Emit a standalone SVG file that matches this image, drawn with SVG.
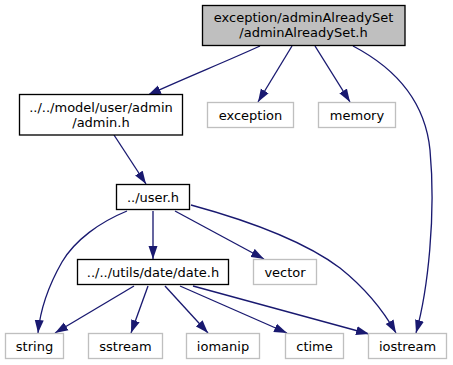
<svg xmlns="http://www.w3.org/2000/svg" width="453" height="365" viewBox="0 0 453 365">
  <style>
    .bg { fill: #ffffff; }
    .node rect { fill: #ffffff; stroke: #000000; stroke-width: 1.33; }
    .node.ext rect { stroke: #bfbfbf; }
    .node.root rect { fill: #bfbfbf; stroke: #000000; }
    .node text { font-family: "DejaVu Sans", "Liberation Sans", sans-serif; font-size: 13px; fill: #000000; text-anchor: middle; }
    .edges path { fill: none; stroke: #191970; stroke-width: 1.33; marker-end: url(#arrow); }
  </style>
  <defs>
    <marker id="arrow" viewBox="0 0 13 10" refX="13" refY="5" markerWidth="13" markerHeight="10" markerUnits="userSpaceOnUse" orient="auto">
      <path d="M0,0.5 L13,5 L0,9.5 Z" fill="#191970"/>
    </marker>
  </defs>
  <rect class="bg" x="0" y="0" width="453" height="365"/>

  <!-- include edges -->
  <g id="edges" class="edges">
    <path d="M260,46 C225,62 185,78 148,95"/>
    <path d="M292,46 L258,102"/>
    <path d="M315,46 L350,102"/>
    <path d="M353,46 C395,68 425,100 430,150 C436,215 428,290 416,333"/>
    <path d="M114,135 L146,184"/>
    <path d="M127,211 C100,222 75,240 62,262 C46,290 40,312 38,333"/>
    <path d="M153,211 L153,259"/>
    <path d="M175,211 L264,259"/>
    <path d="M191,205 C235,217 300,238 340,268 C365,288 383,310 396,333"/>
    <path d="M134,286 L55,333"/>
    <path d="M148,286 L131,333"/>
    <path d="M165,286 L208,333"/>
    <path d="M180,286 L287,333"/>
    <path d="M193,286 L369,334"/>
  </g>

  <g id="node-adminAlreadySet" class="node root">
    <rect x="202.5" y="5.5" width="202.5" height="40"/>
    <text x="303.5" y="22">exception/adminAlreadySet</text>
    <text x="303.5" y="37">/adminAlreadySet.h</text>
  </g>
  <g id="node-admin" class="node">
    <rect x="19.5" y="94.5" width="163" height="40.5"/>
    <text x="101" y="111.5">../../model/user/admin</text>
    <text x="101" y="126.5">/admin.h</text>
  </g>
  <g id="node-exception" class="node ext">
    <rect x="207.5" y="102.5" width="86" height="25"/>
    <text x="250.5" y="119.5">exception</text>
  </g>
  <g id="node-memory" class="node ext">
    <rect x="318.5" y="102.5" width="77" height="25"/>
    <text x="357" y="119.5">memory</text>
  </g>
  <g id="node-user" class="node">
    <rect x="116.5" y="184.5" width="73" height="25"/>
    <text x="153" y="201.5">../user.h</text>
  </g>
  <g id="node-date" class="node">
    <rect x="77.5" y="259.5" width="151" height="25"/>
    <text x="153" y="276.5">../../utils/date/date.h</text>
  </g>
  <g id="node-vector" class="node ext">
    <rect x="253.5" y="259.5" width="63" height="25"/>
    <text x="285" y="276.5">vector</text>
  </g>
  <g id="node-string" class="node ext">
    <rect x="5.5" y="333.5" width="58" height="25"/>
    <text x="34.5" y="350.5">string</text>
  </g>
  <g id="node-sstream" class="node ext">
    <rect x="88.5" y="333.5" width="74" height="25"/>
    <text x="125.5" y="350.5">sstream</text>
  </g>
  <g id="node-iomanip" class="node ext">
    <rect x="186.5" y="333.5" width="73" height="25"/>
    <text x="223" y="350.5">iomanip</text>
  </g>
  <g id="node-ctime" class="node ext">
    <rect x="285.5" y="333.5" width="58" height="25"/>
    <text x="314.5" y="350.5">ctime</text>
  </g>
  <g id="node-iostream" class="node ext">
    <rect x="368.5" y="333.5" width="78" height="25"/>
    <text x="407.5" y="350.5">iostream</text>
  </g>
</svg>
